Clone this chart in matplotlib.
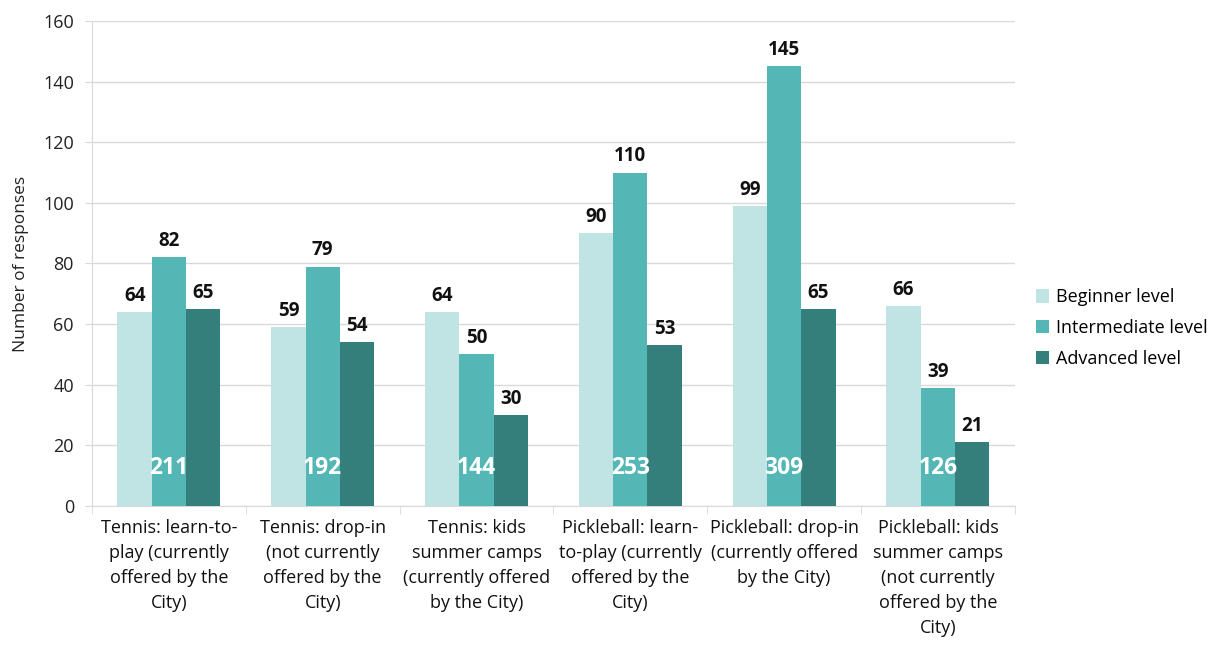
import matplotlib
matplotlib.use("Agg")
import matplotlib.pyplot as plt
import numpy as np

categories = [
    "Tennis: learn-to-\nplay (currently\noffered by the\nCity)",
    "Tennis: drop-in\n(not currently\noffered by the\nCity)",
    "Tennis: kids\nsummer camps\n(currently offered\nby the City)",
    "Pickleball: learn-\nto-play (currently\noffered by the\nCity)",
    "Pickleball: drop-in\n(currently offered\nby the City)",
    "Pickleball: kids\nsummer camps\n(not currently\noffered by the\nCity)",
]
beginner = [64, 59, 64, 90, 99, 66]
intermediate = [82, 79, 50, 110, 145, 39]
advanced = [65, 54, 30, 53, 65, 21]
totals = [211, 192, 144, 253, 309, 126]
series_names = ["Beginner level", "Intermediate level", "Advanced level"]
colors = ["#BFE4E3", "#55B7B5", "#347E7B"]

plt.rcParams['font.family'] = ['Open Sans', 'DejaVu Sans']

fig = plt.figure(figsize=(12.11, 6.45), dpi=100)
ax = fig.add_axes([0.076, 0.2155, 0.762, 0.752])

x = np.arange(len(categories))
w = 0.223
series = [beginner, intermediate, advanced]
for i, (vals, name, c) in enumerate(zip(series, series_names, colors)):
    bars = ax.bar(x + (i - 1) * w, vals, width=w, color=c, label=name, zorder=3)
    for b, v in zip(bars, vals):
        ax.text(b.get_x() + b.get_width() / 2, v + 2, str(v), ha='center', va='bottom',
                fontsize=13.5, fontweight='bold', color='#111111', zorder=4)

for xi, t in zip(x, totals):
    ax.text(xi, 12.5, str(t), ha='center', va='center', fontsize=16.5,
            fontweight='bold', color='white', zorder=5)

ax.set_xlim(-0.5, len(categories) - 0.5)
ax.set_ylim(0, 160)
ax.set_yticks(range(0, 161, 20))
ax.yaxis.grid(True, color='#D9D9D9', linewidth=1, zorder=0)
ax.set_axisbelow(True)
for s in ['top', 'right']:
    ax.spines[s].set_visible(False)
ax.spines['left'].set_color('#D9D9D9')
ax.spines['bottom'].set_color('#D9D9D9')
ax.tick_params(axis='y', length=5, color='#D9D9D9', labelsize=13, labelcolor='#222222', pad=8)
ax.set_xticks(x)
ax.set_xticklabels(categories, fontsize=13, color='#111111', linespacing=1.5)
ax.tick_params(axis='x', length=0, pad=9)
ax.set_xticks(np.arange(-0.5, len(categories), 1), minor=True)
ax.tick_params(axis='x', which='minor', length=6, color='#D9D9D9')
ax.set_ylabel("Number of responses", fontsize=12.5, color='#222222', labelpad=10)

ax.legend(loc='center left', bbox_to_anchor=(1.005, 0.367), frameon=False,
          fontsize=13, handlelength=0.75, handleheight=0.75, handletextpad=0.4,
          labelspacing=0.7)

fig.savefig("out.png", dpi=100)
